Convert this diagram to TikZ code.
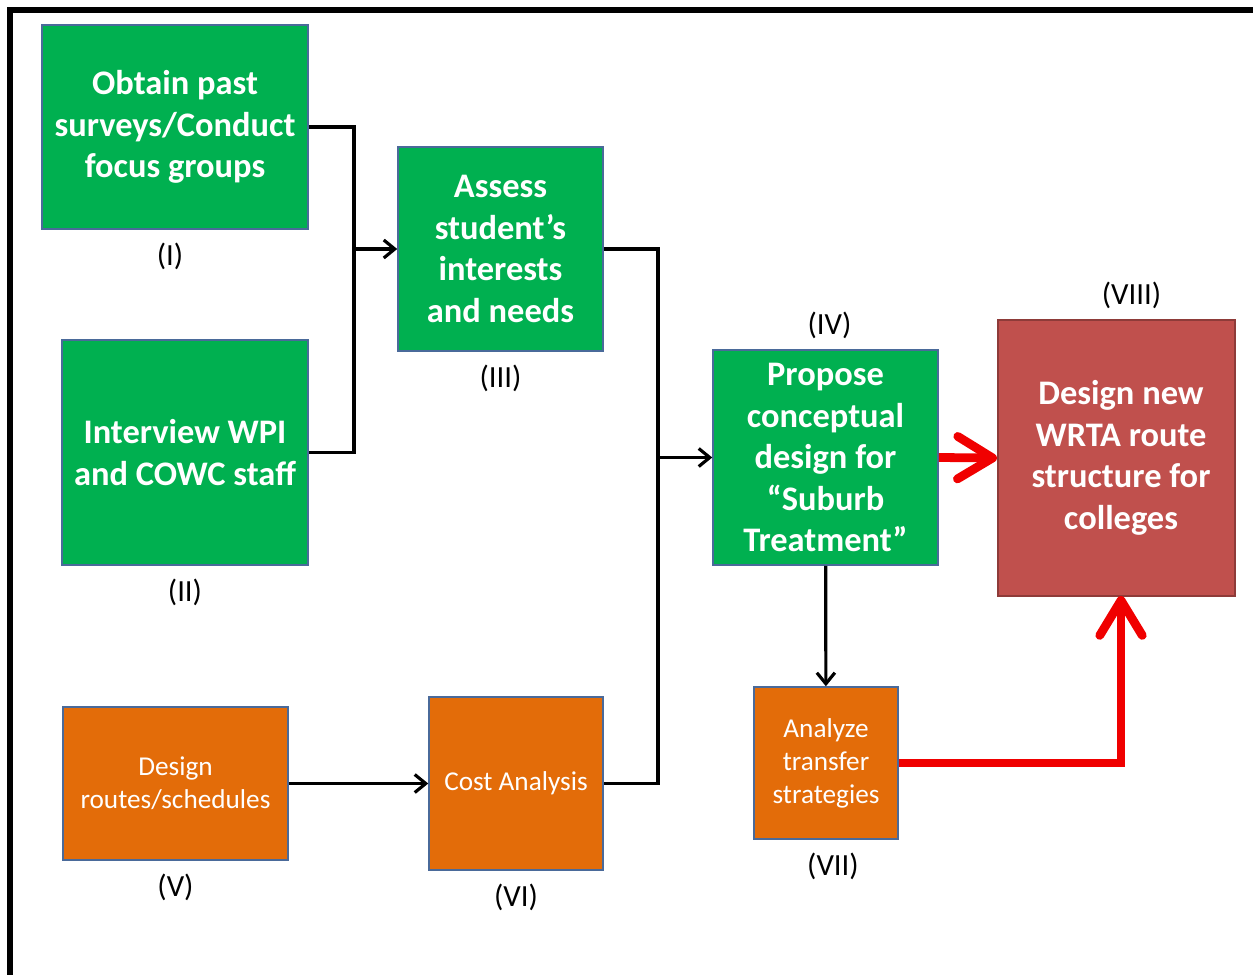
\documentclass[tikz,border=0pt]{standalone}
\usepackage{fontspec}
\setmainfont{Carlito}
\usepackage{tikz}
\usetikzlibrary{arrows.meta,positioning,calc}
\definecolor{boxgreen}{HTML}{00B050}
\definecolor{boxorange}{HTML}{E36C09}
\definecolor{boxred}{HTML}{C0504D}
\definecolor{edgeblue}{HTML}{4A6A9A}
\definecolor{edgered}{HTML}{8E3B39}
\definecolor{arrowred}{HTML}{F00000}
\definecolor{shadered}{HTML}{A00000}

\begin{document}
\begin{tikzpicture}[% coordinates are given in pixels of the page, y runs down
			x=0.02cm,y=-0.02cm,
			every node/.style={
				align=center,		% so that "\\" breaks the line
				inner sep=2pt
			},
			every edge/.style={draw,line width=1.8pt},
			greenbox/.style={rectangle,draw=edgeblue,line width=0.9pt,fill=boxgreen,text=white,
				font=\fontsize{19.6}{23.6}\selectfont\bfseries},
			orangebox/.style={rectangle,draw=edgeblue,line width=0.9pt,fill=boxorange,text=white,
				font=\fontsize{15.5}{18.8}\selectfont},
			redbox/.style={rectangle,draw=edgered,line width=1.2pt,fill=boxred,text=white,
				font=\fontsize{19.6}{23.6}\selectfont\bfseries},
			numlabel/.style={font=\fontsize{17.5}{20}\selectfont,inner sep=0pt},
			flow/.style={draw,line width=1.8pt,line join=miter},
			flowtip/.style={-{Straight Barb[length=0.22cm,width=0.36cm]}},
			bigflow/.style={draw=arrowred,line width=5pt,line join=miter,
				-{Straight Barb[length=0.7cm,width=0.85cm,line cap=round,line join=round]}}
		]
		\useasboundingbox (0,0) rectangle (1253,974);
		\draw[line width=3.4pt] (10,990) -- (10,10) -- (1270,10); % frame, cut on the right and below

		% green boxes
		\node[greenbox,minimum width=5.32cm,minimum height=4.08cm](R1) at (175,127){Obtain past\\surveys/Conduct\\focus groups};
		\node[greenbox,minimum width=4.92cm,minimum height=4.50cm](R2) at (185,452.5){Interview WPI\\and COWC staff};
		\node[greenbox,minimum width=4.10cm,minimum height=4.08cm](R3) at (500.5,249){Assess\\student’s\\interests\\and needs};
		\node[greenbox,minimum width=4.50cm,minimum height=4.30cm](R4) at (825.5,457.5){Propose\\conceptual\\design for\\“Suburb\\Treatment”};
		% orange boxes
		\node[orangebox,minimum width=4.50cm,minimum height=3.06cm](R5) at (175.5,783.5){Design\\routes/schedules};
		\node[orangebox,minimum width=3.48cm,minimum height=3.46cm](R6) at (516,783.5){Cost Analysis};
		\node[orangebox,minimum width=2.88cm,minimum height=3.04cm](R7) at (826,763){Analyze\\transfer\\strategies};
		% red box
		\node[redbox,minimum width=4.74cm,minimum height=5.52cm](R8) at (1116.5,458){\hspace*{0.18cm}Design new\\\hspace*{0.18cm}WRTA route\\\hspace*{0.18cm}structure for\\\hspace*{0.18cm}colleges};

		% numbers
		\node[numlabel](L1)[below=0.26cm of R1,xshift=-0.1cm]{(I)};
		\node[numlabel](L2)[below=0.26cm of R2]{(II)};
		\node[numlabel](L3)[below=0.26cm of R3]{(III)};
		\node[numlabel](L4)[above=0.2cm of R4,xshift=0.08cm]{(IV)};
		\node[numlabel](L5)[below=0.26cm of R5]{(V)};
		\node[numlabel](L6)[below=0.26cm of R6]{(VI)};
		\node[numlabel](L7)[below=0.26cm of R7,xshift=0.14cm]{(VII)};
		\node[numlabel](L8)[above=0.2cm of R8,xshift=0.3cm]{(VIII)};

		% joints of the connectors
		\coordinate (J1) at (354,249);
		\coordinate (J2) at (658,457.5);
		\coordinate (J3) at (1121,596);

		\draw[flow] (R1.east) -| (J1) |- (R2.east);
		\draw[flow] (R3.east) -| (J2) |- (R6.east);
		\path[flowtip]
		(J1)edge [] node [] {} (R3)
		(J2)edge [] node [] {} (R4)
		(R5)edge [] node [] {} (R6)
		(R4)edge [] node [] {} (R7)
		;
		\draw[bigflow] (R4.east) -- (R8.west);
		\draw[bigflow] (R7.east) -| (J3);
	\end{tikzpicture}
\end{document}
